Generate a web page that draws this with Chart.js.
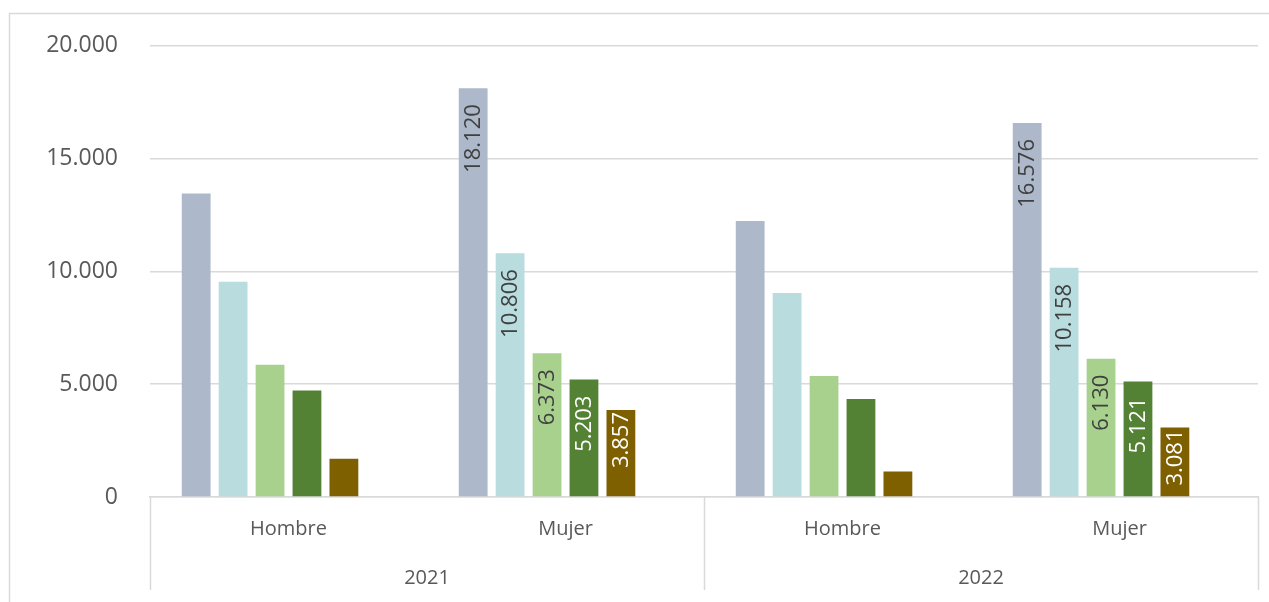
<!DOCTYPE html>
<html>
<head>
<meta charset="utf-8">
<script src="https://cdn.jsdelivr.net/npm/chart.js@4"></script>
<style>
  html, body { margin: 0; padding: 0; background: #fff; }
  #wrap { width: 1269px; height: 602px; }
</style>
</head>
<body>
<div id="wrap"><canvas id="canvas"></canvas></div>
<script>
// categorie (livello 1) e anni (livello 2)
const categories = ['Hombre', 'Mujer', 'Hombre', 'Mujer'];
const years = ['2021', '2022'];

// serie
const serie1 = [13450, 18120, 12230, 16576];
const serie2 = [9540, 10806, 9040, 10158];
const serie3 = [5860, 6373, 5360, 6130];
const serie4 = [4720, 5203, 4340, 5121];
const serie5 = [1690, 3857, 1130, 3081];
// serie vuota (in Excel c'e' uno slot vuoto dopo l'ultima barra)
const serieVuota = [null, null, null, null];

const yTicks = [0, 5000, 10000, 15000, 20000];

// etichette solo sulle barre "Mujer"
const showLabel = [false, true, false, true];

const colors = ['#ADB9CA', '#B9DCDF', '#A9D18E', '#548235', '#7F6000'];
const labelColors = ['#404040', '#404040', '#404040', '#FFFFFF', '#FFFFFF'];

function fmt(v) {
  return String(v).replace(/\B(?=(\d{3})+(?!\d))/g, '.');
}

const FONT = "'Open Sans', sans-serif";

// plugin: bordo esterno, linee del livello multiplo, etichette ruotate
const extras = {
  id: 'extras',
  beforeDraw(chart) {
    const ctx = chart.ctx;
    ctx.save();
    ctx.fillStyle = '#fff';
    ctx.fillRect(0, 0, chart.width, chart.height);
    ctx.strokeStyle = '#D9D9D9';
    ctx.lineWidth = 1.5;
    ctx.strokeRect(9.5, 13.5, 1400, 800);
    ctx.restore();
  },
  afterDraw(chart) {
    const ctx = chart.ctx;
    const xs = chart.scales.x;
    const area = chart.chartArea;
    ctx.save();
    ctx.strokeStyle = '#D9D9D9';
    ctx.lineWidth = 1.5;
    const mid = (xs.getPixelForValue(1) + xs.getPixelForValue(2)) / 2;
    [area.left, mid, area.right].forEach((x) => {
      ctx.beginPath();
      ctx.moveTo(Math.round(x) + 0.5, area.bottom);
      ctx.lineTo(Math.round(x) + 0.5, 590);
      ctx.stroke();
    });

    ctx.font = '22px ' + FONT;
    ctx.textAlign = 'right';
    ctx.textBaseline = 'middle';
    chart.data.datasets.forEach((ds, di) => {
      const meta = chart.getDatasetMeta(di);
      if (di >= 5) return;
      meta.data.forEach((bar, i) => {
        if (!showLabel[i] || ds.data[i] == null) return;
        const txt = fmt(ds.data[i]);
        const len = ctx.measureText(txt).width;
        const h = bar.base - bar.y;
        const pad = (len + 32 <= h) ? 16 : 2;
        ctx.save();
        ctx.translate(bar.x + 1, bar.y + pad);
        ctx.rotate(-Math.PI / 2);
        ctx.fillStyle = labelColors[di];
        ctx.fillText(txt, 0, 0);
        ctx.restore();
      });
    });
    ctx.restore();
  },
};

const seriesList = [serie1, serie2, serie3, serie4, serie5];
const datasets = seriesList.map((s, i) => ({
  label: 'Serie ' + (i + 1),
  data: s,
  backgroundColor: colors[i],
  categoryPercentage: 0.8,
  barPercentage: 0.78,
}));
datasets.push({
  label: '',
  data: serieVuota,
  backgroundColor: 'rgba(0,0,0,0)',
  categoryPercentage: 0.8,
  barPercentage: 0.78,
});

new Chart(document.getElementById('canvas'), {
  type: 'bar',
  data: { labels: categories, datasets },
  options: {
    responsive: true,
    maintainAspectRatio: false,
    animation: false,
    layout: { padding: { left: 0, right: 11, top: 44, bottom: 0 } },
    plugins: {
      legend: { display: false },
      tooltip: { enabled: false },
    },
    scales: {
      x: {
        type: 'category',
        position: 'bottom',
        grid: { display: false },
        border: { display: true, color: '#D9D9D9', width: 1.5 },
        ticks: {
          color: '#595959',
          font: { family: FONT, size: 20 },
          padding: 12,
          maxRotation: 0,
        },
        afterFit(scale) { scale.height = 55; },
      },
      x2: {
        type: 'category',
        position: 'bottom',
        labels: years,
        offset: true,
        grid: { display: false },
        border: { display: false },
        ticks: {
          color: '#595959',
          font: { family: FONT, size: 20 },
          padding: 6,
          maxRotation: 0,
        },
        afterFit(scale) { scale.height = 50; },
      },
      y: {
        min: 0,
        max: 20000,
        afterBuildTicks(scale) {
          scale.ticks = yTicks.map((v) => ({ value: v }));
        },
        grid: { color: '#D9D9D9', lineWidth: 1.5, drawTicks: false },
        border: { display: false },
        ticks: {
          color: '#595959',
          font: { family: FONT, size: 23 },
          padding: 32,
          callback: (v) => fmt(v),
        },
        afterFit(scale) { scale.width = 150; },
      },
    },
  },
  plugins: [extras],
});
</script>
</body>
</html>
